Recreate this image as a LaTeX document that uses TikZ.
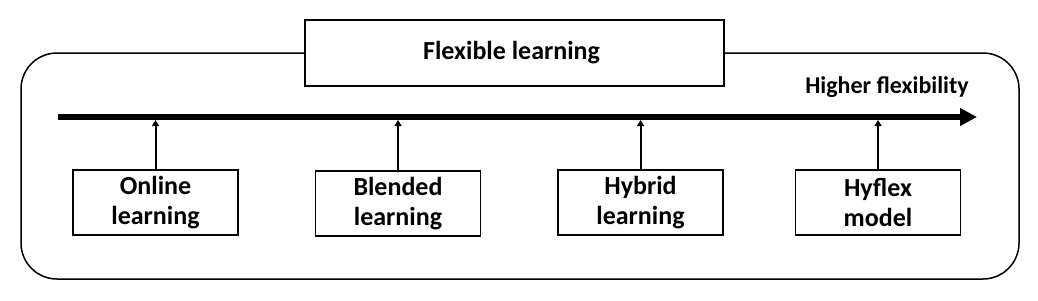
\documentclass[tikz,border=0pt]{standalone}
\usepackage{fontspec}
\setmainfont{Carlito}
\usetikzlibrary{positioning, arrows.meta}
\tikzset{
	levelnode/.style={
			draw=black,
			line width=1.5pt,
			fill=white,
			minimum width=165pt,
			minimum height=65pt,
			align=center,
			inner sep=0pt,
			font=\fontsize{26}{30}\selectfont\bfseries
		},
	titlenode/.style={
			levelnode,
			minimum width=419pt,
			minimum height=66pt
		},
	labelnode/.style={
			inner sep=0pt,
			font=\fontsize{24}{28}\selectfont\bfseries
		}
}
\begin{document}
\begin{tikzpicture}[x=1pt, y=-1pt]
\useasboundingbox (0,0) rectangle (1038,300);
\draw[line width=1.5pt, rounded corners=36pt] (21,53) rectangle (1019,279);
\node[titlenode] (title) at (514.5,53) { Flexible learning };
\node[labelnode] (lab) at (887,87) { Higher flexibility };

\coordinate (a0) at (58,117);
\coordinate (a1) at (977,117);
\draw[line width=5.5pt, -{Triangle[length=17pt, width=17pt]}] (a0) -- (a1);

\node[levelnode] (n1) at (155.5,202.5) { Online\\learning };
\node[levelnode] (n2) at (398,203.5) { Blended\\learning };
\node[levelnode] (n3) at (640.5,202.5) { Hybrid\\learning };
\node[levelnode] (n4) at (878,202.5) { Hyflex\\model };

\draw[line width=2pt, -{Triangle[length=6pt, width=7pt]}] (n1.north) -- ([yshift=-3pt]n1.north |- a0);
\draw[line width=2pt, -{Triangle[length=6pt, width=7pt]}] (n2.north) -- ([yshift=-3pt]n2.north |- a0);
\draw[line width=2pt, -{Triangle[length=6pt, width=7pt]}] (n3.north) -- ([yshift=-3pt]n3.north |- a0);
\draw[line width=2pt, -{Triangle[length=6pt, width=7pt]}] (n4.north) -- ([yshift=-3pt]n4.north |- a0);
\end{tikzpicture}
\end{document}
